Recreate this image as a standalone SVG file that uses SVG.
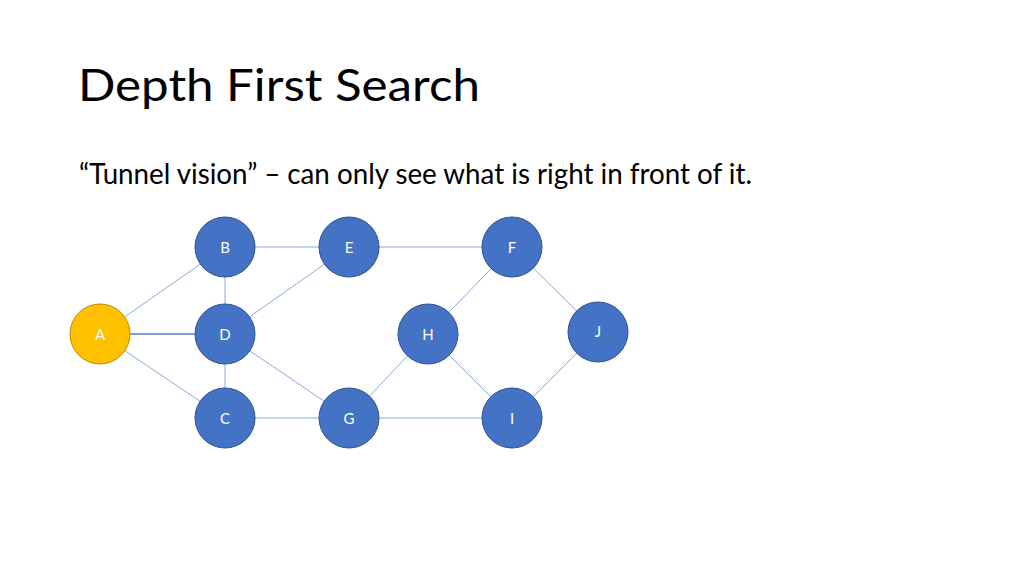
<svg xmlns="http://www.w3.org/2000/svg" width="1024" height="575" viewBox="0 0 1024 575">
<style>
.t{font-family:Lato,"Open Sans","Liberation Sans",sans-serif;fill:#000}
.n circle{fill:#4472C4;stroke:#2F528F;stroke-width:1}
.n text{font-family:Lato,"Open Sans","Liberation Sans",sans-serif;font-size:15px;fill:#fff;text-anchor:middle;dominant-baseline:central}
#A circle{fill:#FFC000;stroke:#BC8C00}
.e line{stroke:#7F9FD6;stroke-width:0.9}
</style>
<rect width="1024" height="575" fill="#fff"/>
<text class="t" x="78" y="101" font-size="45" textLength="402" lengthAdjust="spacingAndGlyphs">Depth First Search</text>
<text class="t" x="79" y="184" font-size="29" textLength="673" lengthAdjust="spacingAndGlyphs">“Tunnel vision” – can only see what is right in front of it.</text>
<g class="e" id="edges">
<line x1="100" y1="334" x2="225" y2="247"/>
<line x1="100" y1="334" x2="225" y2="334" style="stroke:#5A80C8;stroke-width:1.6"/>
<line x1="100" y1="334" x2="225" y2="418"/>
<line x1="225" y1="247" x2="225" y2="334"/>
<line x1="225" y1="247" x2="349" y2="247"/>
<line x1="225" y1="334" x2="225" y2="418"/>
<line x1="225" y1="334" x2="349" y2="247"/>
<line x1="225" y1="334" x2="349" y2="418"/>
<line x1="225" y1="418" x2="349" y2="418"/>
<line x1="349" y1="247" x2="512" y2="247"/>
<line x1="349" y1="418" x2="428" y2="334"/>
<line x1="349" y1="418" x2="512" y2="418"/>
<line x1="428" y1="334" x2="512" y2="247"/>
<line x1="428" y1="334" x2="512" y2="418"/>
<line x1="512" y1="247" x2="598" y2="332"/>
<line x1="598" y1="332" x2="512" y2="418"/>
</g>
<g class="n" id="A"><circle cx="100" cy="334" r="30"/><text x="100" y="334">A</text></g>
<g class="n" id="B"><circle cx="225" cy="247" r="30"/><text x="225" y="247">B</text></g>
<g class="n" id="D"><circle cx="225" cy="334" r="30"/><text x="225" y="334">D</text></g>
<g class="n" id="C"><circle cx="225" cy="418" r="30"/><text x="225" y="418">C</text></g>
<g class="n" id="E"><circle cx="349" cy="247" r="30"/><text x="349" y="247">E</text></g>
<g class="n" id="G"><circle cx="349" cy="418" r="30"/><text x="349" y="418">G</text></g>
<g class="n" id="F"><circle cx="512" cy="247" r="30"/><text x="512" y="247">F</text></g>
<g class="n" id="H"><circle cx="428" cy="334" r="30"/><text x="428" y="334">H</text></g>
<g class="n" id="I"><circle cx="512" cy="418" r="30"/><text x="512" y="418">I</text></g>
<g class="n" id="J"><circle cx="598" cy="332" r="30"/><text x="598" y="331">J</text></g>
</svg>
